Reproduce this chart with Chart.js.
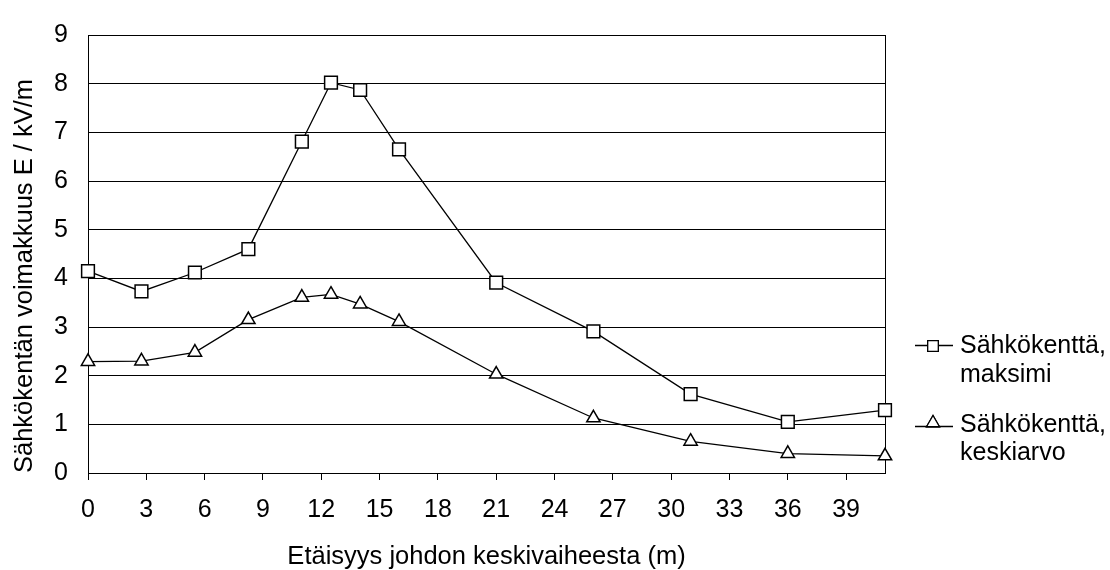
<!DOCTYPE html>
<html>
<head>
<meta charset="utf-8">
<script src="https://cdn.jsdelivr.net/npm/chart.js@4.4.1/dist/chart.umd.min.js"></script>
<style>
    html, body { margin: 0; padding: 0; background: #fff; }
    #chart { display: block; }
</style>
</head>
<body>
<canvas id="chart" width="1110" height="570"></canvas>
<script>
// Distance from the middle phase of the line (m)
const distances = [0, 2.75, 5.5, 8.25, 11, 12.5, 14, 16, 21, 26, 31, 36, 41];
// Electric field strength E / kV/m
const maxField = [4.15, 3.73, 4.12, 4.60, 6.81, 8.02, 7.87, 6.65, 3.91, 2.91, 1.62, 1.05, 1.29];
const meanField = [2.29, 2.30, 2.48, 3.15, 3.61, 3.67, 3.47, 3.11, 2.03, 1.13, 0.65, 0.40, 0.35];

const seriesLabels = [['Sähkökenttä,', 'maksimi'], ['Sähkökenttä,', 'keskiarvo']];
const xTicks = [0, 3, 6, 9, 12, 15, 18, 21, 24, 27, 30, 33, 36, 39];
const yTicks = [0, 1, 2, 3, 4, 5, 6, 7, 8, 9];
const xTitle = 'Etäisyys johdon keskivaiheesta (m)';
const yTitle = 'Sähkökentän voimakkuus E / kV/m';

const FONT = "'Liberation Sans', Arial, sans-serif";

// plot area frame, drawn under the markers
const frame = {
    id: 'frame',
    beforeDatasetsDraw(chart) {
        const { ctx, chartArea: a } = chart;
        ctx.save();
        ctx.strokeStyle = '#000';
        ctx.lineWidth = 1;
        ctx.strokeRect(Math.round(a.left) + 0.5, Math.round(a.top) + 0.5,
            Math.round(a.right - a.left), Math.round(a.bottom - a.top));
        ctx.restore();
    }
};

// legend on the right with two-line labels
const sideLegend = {
    id: 'sideLegend',
    afterDraw(chart) {
        const { ctx } = chart;
        const rows = [
            { lineY: 345.5, markY: 346, radius: 7.5, base: [353, 382] },
            { lineY: 426.5, markY: 423, radius: 7.5, base: [432, 460] }
        ];
        ctx.save();
        chart.data.datasets.forEach((ds, i) => {
            const r = rows[i];
            ctx.strokeStyle = '#000';
            ctx.lineWidth = 1.3;
            ctx.beginPath();
            ctx.moveTo(915, r.lineY);
            ctx.lineTo(953, r.lineY);
            ctx.stroke();
            ctx.fillStyle = '#fff';
            Chart.helpers.drawPoint(ctx, {
                pointStyle: ds.pointStyle, radius: r.radius, borderWidth: 1.3
            }, 933, r.markY);
            ctx.fill();
            ctx.stroke();
            ctx.fillStyle = '#000';
            ctx.font = '25px ' + FONT;
            ctx.textBaseline = 'alphabetic';
            ctx.textAlign = 'left';
            seriesLabels[i].forEach((t, k) => ctx.fillText(t, 960, r.base[k]));
        });
        ctx.restore();
    }
};

const ctx = document.getElementById('chart').getContext('2d');

new Chart(ctx, {
    type: 'line',
    data: {
        datasets: [
            {
                label: seriesLabels[0].join(' '),
                data: distances.map((x, i) => ({ x: x, y: maxField[i] })),
                borderColor: '#000',
                borderWidth: 1.3,
                pointStyle: 'rect',
                pointRadius: 9,
                pointBackgroundColor: '#fff',
                pointBorderColor: '#000',
                pointBorderWidth: 1.5,
                tension: 0,
                clip: false
            },
            {
                label: seriesLabels[1].join(' '),
                data: distances.map((x, i) => ({ x: x, y: meanField[i] })),
                borderColor: '#000',
                borderWidth: 1.3,
                pointStyle: 'triangle',
                pointRadius: 7.7,
                pointBackgroundColor: '#fff',
                pointBorderColor: '#000',
                pointBorderWidth: 1.5,
                tension: 0,
                clip: false
            }
        ]
    },
    options: {
        responsive: false,
        animation: false,
        devicePixelRatio: 1,
        layout: { padding: { left: 0, top: 23, right: 225, bottom: 0 } },
        plugins: {
            legend: { display: false },
            tooltip: { enabled: false }
        },
        scales: {
            x: {
                type: 'linear',
                min: 0,
                max: 41,
                afterBuildTicks: (s) => { s.ticks = xTicks.map(v => ({ value: v })); },
                afterFit: (s) => { s.height = 97; },
                grid: { drawOnChartArea: false, drawTicks: true, tickLength: 7, color: '#000', lineWidth: 1 },
                border: { display: true, color: '#000', width: 1 },
                ticks: { color: '#000', padding: 15, maxRotation: 0, autoSkip: false, font: { family: FONT, size: 25 } },
                title: {
                    display: true,
                    text: xTitle,
                    color: '#000',
                    font: { family: FONT, size: 25.5, lineHeight: 1 },
                    padding: { top: 0, bottom: 0 }
                }
            },
            y: {
                type: 'linear',
                min: 0,
                max: 9,
                afterBuildTicks: (s) => { s.ticks = yTicks.map(v => ({ value: v })); },
                afterFit: (s) => { s.width = 88; },
                grid: { color: '#000', lineWidth: 1, drawTicks: false },
                border: { display: true, color: '#000', width: 1 },
                ticks: { color: '#000', padding: 20, font: { family: FONT, size: 25 } },
                title: {
                    display: true,
                    text: yTitle,
                    align: 'start',
                    color: '#000',
                    font: { family: FONT, size: 25.5, lineHeight: 1 },
                    padding: { top: 12, bottom: 0 }
                }
            }
        }
    },
    plugins: [frame, sideLegend]
});
</script>
</body>
</html>
